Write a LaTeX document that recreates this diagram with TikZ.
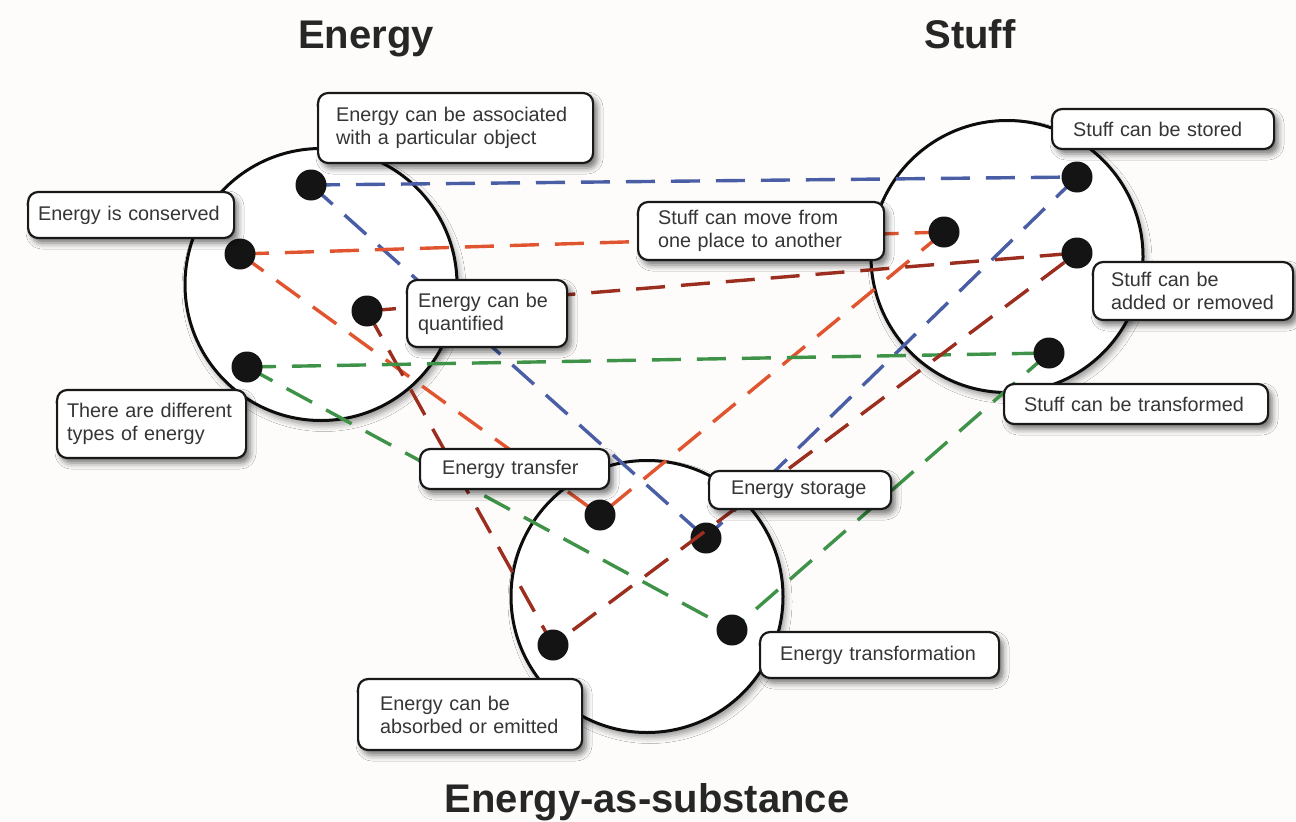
\documentclass[tikz,border=0pt]{standalone}
\usepackage{fontspec}
\setmainfont{Liberation Sans}
\usetikzlibrary{shadows.blur}

\definecolor{bluelink}{HTML}{4A5EA6}
\definecolor{orangelink}{HTML}{E0552F}
\definecolor{redlink}{HTML}{9B2E1E}
\definecolor{greenlink}{HTML}{3E9348}
\definecolor{paper}{HTML}{FDFCFA}
\definecolor{ink}{HTML}{353535}

\begin{document}
\begin{tikzpicture}[x=1pt,y=-1pt,
  blob/.style={circle, draw=black!95, line width=3pt, fill=white,
    minimum size=272pt, inner sep=0pt,
    blur shadow={shadow xshift=3pt, shadow yshift=-5pt,
      shadow blur radius=6pt, shadow opacity=40}},
  dot/.style={circle, fill=black!92, minimum size=31pt, inner sep=0pt},
  link/.style={line width=3.4pt, dash pattern=on 29pt off 16pt},
  note/.style={draw=black!90, line width=2.2pt, rounded corners=10pt,
    fill=white, text=ink, font=\fontsize{19.8}{23}\selectfont,
    align=left, anchor=west, inner ysep=0pt,
    blur shadow={shadow xshift=4pt, shadow yshift=-5pt,
      shadow blur radius=6pt, shadow opacity=55}},
  heading/.style={font=\fontsize{40}{48}\selectfont\bfseries,
    text=black!85, anchor=base, inner sep=0pt}
]
\useasboundingbox (0,0) rectangle (1296,822);
\fill[paper] (0,0) rectangle (1296,822);

% the three concept circles
\node[blob] (cEnergy) at (321,284.5) {};
\node[blob] (cStuff)  at (1007,256.5) {};
\node[blob] (cSubst)  at (647,596.5) {};

% points inside the circles
\coordinate (pA)  at (311,185);
\coordinate (pC)  at (240,254);
\coordinate (pQ)  at (367,311);
\coordinate (pT)  at (247,367);
\coordinate (pS1) at (1077,177);
\coordinate (pS2) at (944,232);
\coordinate (pS3) at (1077,253);
\coordinate (pS4) at (1049,353);
\coordinate (pE1) at (600,515);
\coordinate (pE2) at (706,538);
\coordinate (pE3) at (553,645);
\coordinate (pE4) at (732,630);

% dashed correspondences
\draw[link, bluelink]   (pA) -- (pS1);
\draw[link, bluelink]   (pA) -- (pE2);
\draw[link, bluelink]   (pS1) -- (pE2);
\draw[link, orangelink] (pC) -- (pS2);
\draw[link, orangelink] (pC) -- (pE1);
\draw[link, orangelink] (pS2) -- (pE1);
\draw[link, redlink]    (pQ) -- (pS3);
\draw[link, redlink]    (pQ) -- (pE3);
\draw[link, greenlink]  (pT) -- (pS4);
\draw[link, greenlink]  (pT) -- (pE4);
\draw[link, greenlink]  (pS4) -- (pE4);

% dots
\foreach \p in {A,C,Q,T,S1,S2,S3,S4,E1,E2,E3,E4}
  \node[dot] (d\p) at (p\p) {};

% this one crosses over the storage dot
\draw[link, redlink] (dS3) -- (dE3);

% labels
\node[note, inner xsep=18pt, text width=239pt, minimum height=70pt] (nAssoc) at (317,128)
  {Energy can be associated\\with a particular object};
\node[note, inner xsep=10pt, text width=186pt, minimum height=46pt] (nConserved) at (27,215)
  {Energy is conserved};
\node[note, inner xsep=11pt, text width=138pt, minimum height=67pt] (nQuant) at (406,313.5)
  {Energy can be\\quantified};
\node[note, inner xsep=10pt, text width=169pt, minimum height=68pt] (nTypes) at (56,424)
  {There are different\\types of energy};

\node[note, inner xsep=21pt, text width=180pt, minimum height=40pt] (nStored) at (1051,129)
  {Stuff can be stored};
\node[note, inner xsep=20pt, text width=206pt, minimum height=58pt] (nMove) at (637,231)
  {Stuff can move from\\one place to another};
\node[note, inner xsep=18pt, text width=164pt, minimum height=58pt] (nAdded) at (1092,291)
  {Stuff can be\\added or removed};
\node[note, inner xsep=20pt, text width=224pt, minimum height=40pt] (nTransformed) at (1003,404)
  {Stuff can be transformed};

\node[note, inner xsep=22pt, text width=145pt, minimum height=40pt] (nTransfer) at (419,469)
  {Energy transfer};
\node[note, inner xsep=22pt, text width=138pt, minimum height=38pt] (nStorage) at (708,490)
  {Energy storage};
\node[note, inner xsep=20pt, text width=199pt, minimum height=46pt] (nTransformation) at (759,655)
  {Energy transformation};
\node[note, inner xsep=22pt, text width=180pt, minimum height=71pt] (nAbsorbed) at (357,714.5)
  {Energy can be\\absorbed or emitted};

% headings
\node[heading] (tEnergy) at (366,48) {Energy};
\node[heading] (tStuff)  at (970,48) {Stuff};
\node[heading] (tSubst)  at (647,812) {Energy-as-substance};
\end{tikzpicture}
\end{document}
